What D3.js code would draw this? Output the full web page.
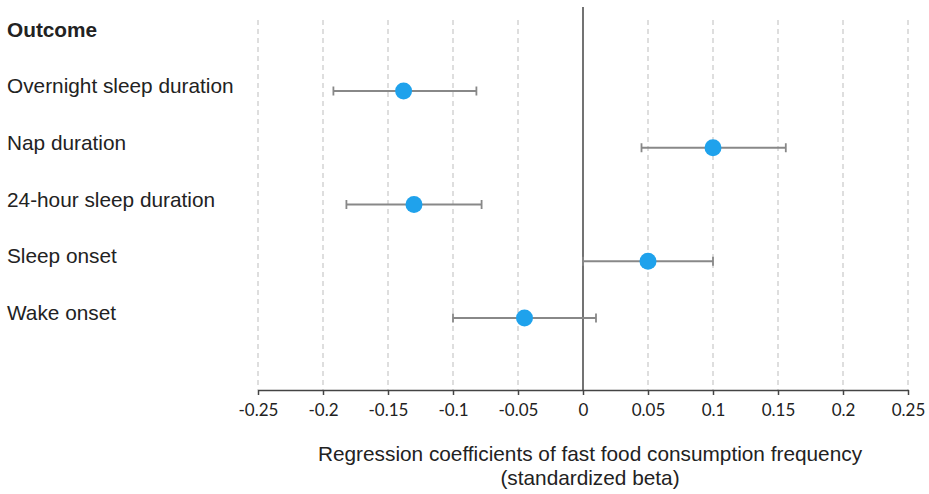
<!DOCTYPE html>
<html>
<head>
<meta charset="utf-8">
<script src="https://cdn.jsdelivr.net/npm/d3@7"></script>
<style>
  html, body { margin: 0; padding: 0; background: #fff; }
  svg { display: block; }
</style>
</head>
<body>
<svg id="chart" width="929" height="494"></svg>
<script>
const outcomes = ["Overnight sleep duration", "Nap duration", "24-hour sleep duration", "Sleep onset", "Wake onset"];
const beta = [-0.138, 0.100, -0.130, 0.050, -0.045];
const ciLow = [-0.192, 0.045, -0.182, 0.000, -0.100];
const ciHigh = [-0.082, 0.156, -0.078, 0.100, 0.010];
const tickValues = [-0.25, -0.2, -0.15, -0.1, -0.05, 0, 0.05, 0.1, 0.15, 0.2, 0.25];
const tickLabels = ["-0.25", "-0.2", "-0.15", "-0.1", "-0.05", "0", "0.05", "0.1", "0.15", "0.2", "0.25"];
const headerText = "Outcome";
const axisTitle = ["Regression coefficients of fast food consumption frequency", "(standardized beta)"];

const svg = d3.select("#chart");
const x = d3.scaleLinear().domain([-0.25, 0.25]).range([258, 908]);
const y = d3.scalePoint().domain(outcomes).range([91, 318]);
const axisY = 390;
const labelFont = "Arial, 'Liberation Sans', sans-serif";

// gridlines
svg.append("g").selectAll("line").data(tickValues.filter(d => d !== 0)).join("line")
  .attr("x1", d => x(d)).attr("x2", d => x(d))
  .attr("y1", 20).attr("y2", axisY)
  .attr("stroke", "#c8c8c8").attr("stroke-width", 1.2)
  .attr("stroke-dasharray", "5,4");

// zero line
svg.append("line")
  .attr("x1", x(0)).attr("x2", x(0))
  .attr("y1", 7).attr("y2", axisY)
  .attr("stroke", "#444").attr("stroke-width", 1.5);

// x axis
const axis = d3.axisBottom(x).tickValues(tickValues)
  .tickFormat((d, i) => tickLabels[i]).tickSize(5).tickSizeOuter(0).tickPadding(9);
const gAxis = svg.append("g").attr("transform", `translate(0,${axisY})`).call(axis);
gAxis.select(".domain").attr("stroke", "#444").attr("stroke-width", 1.5);
gAxis.selectAll(".tick line").attr("stroke", "#444").attr("stroke-width", 1.5);
gAxis.selectAll(".tick text").attr("font-family", "Lato, 'Open Sans', sans-serif")
  .attr("font-size", 17).attr("fill", "#222");

// header and labels
svg.append("text").attr("x", 7).attr("y", 37).text(headerText)
  .attr("font-family", labelFont).attr("font-size", 20.8).attr("font-weight", "bold").attr("fill", "#222");
svg.append("g").selectAll("text").data(outcomes).join("text")
  .attr("x", 7).attr("y", d => y(d) + 2).text(d => d)
  .attr("font-family", labelFont).attr("font-size", 20.8).attr("fill", "#222");

// error bars
const rows = outcomes.map((o, i) => ({ o, b: beta[i], lo: ciLow[i], hi: ciHigh[i] }));
const gErr = svg.append("g").attr("stroke", "#888").attr("stroke-width", 1.8);
gErr.selectAll("line.bar").data(rows).join("line").attr("class", "bar")
  .attr("x1", d => x(d.lo)).attr("x2", d => x(d.hi))
  .attr("y1", d => y(d.o)).attr("y2", d => y(d.o));
gErr.selectAll("line.capl").data(rows).join("line").attr("class", "capl")
  .attr("x1", d => x(d.lo)).attr("x2", d => x(d.lo))
  .attr("y1", d => y(d.o) - 4.5).attr("y2", d => y(d.o) + 4.5);
gErr.selectAll("line.caph").data(rows).join("line").attr("class", "caph")
  .attr("x1", d => x(d.hi)).attr("x2", d => x(d.hi))
  .attr("y1", d => y(d.o) - 4.5).attr("y2", d => y(d.o) + 4.5);

// points
svg.append("g").selectAll("circle").data(rows).join("circle")
  .attr("cx", d => x(d.b)).attr("cy", d => y(d.o)).attr("r", 8.5)
  .attr("fill", "#1fa2ec");

// axis title
svg.append("g").selectAll("text").data(axisTitle).join("text")
  .attr("x", 590).attr("y", (d, i) => 461 + i * 23.5)
  .attr("text-anchor", "middle").text(d => d)
  .attr("font-family", labelFont).attr("font-size", 20.8).attr("fill", "#222");
</script>
</body>
</html>
